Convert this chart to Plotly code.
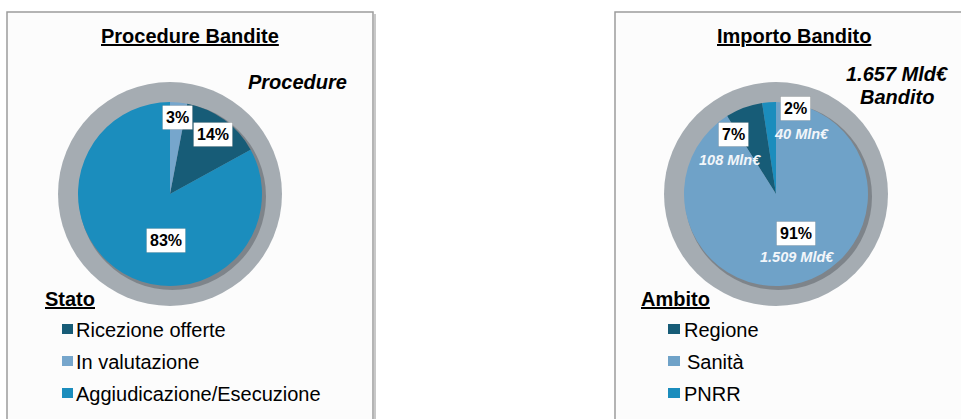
import plotly.graph_objects as go

W, H = 961, 419

# ---------------- data ----------------
stato_labels = ["Ricezione offerte", "In valutazione", "Aggiudicazione/Esecuzione"]
stato_pct = [14, 3, 83]

ambito_labels = ["Regione", "Sanità", "PNRR"]
ambito_mln = [108, 1509, 40]
ambito_amount_text = ["108 Mln€", "1.509 Mld€", "40 Mln€"]
totale_text = ["1.657 Mld€", "Bandito"]

# ---------------- styles ----------------
stato_colors = ["#175C77", "#76A6CC", "#1B8DBD"]
ambito_colors = ["#175C77", "#6FA2C8", "#1B8DBD"]
RING = "#A5ACB2"
FONT = "Liberation Sans, Arial, sans-serif"


def px(x):
    return x / W


def py(y):
    return 1 - y / H


def pie_domain(cx, cy, r):
    return dict(x=[px(cx - r), px(cx + r)], y=[py(cy + r), py(cy - r)])


L_CX, L_CY = 170, 194
R_CX, R_CY = 776, 194
PIE_R = 92
RING_R = 112

fig = go.Figure()

tot_s = sum(stato_pct)
fig.add_trace(go.Pie(
    labels=stato_labels, values=stato_pct, sort=False,
    direction="counterclockwise", rotation=360 * stato_pct[1] / tot_s,
    marker=dict(colors=stato_colors, line=dict(width=0)),
    textinfo="none", hoverinfo="label+percent", showlegend=False,
    domain=pie_domain(L_CX, L_CY, PIE_R),
))

tot_a = sum(ambito_mln)
fig.add_trace(go.Pie(
    labels=ambito_labels, values=ambito_mln, sort=False,
    direction="counterclockwise",
    rotation=-360 * (ambito_mln[0] + ambito_mln[2]) / tot_a,
    marker=dict(colors=ambito_colors, line=dict(width=0)),
    textinfo="none", hoverinfo="label+percent", showlegend=False,
    domain=pie_domain(R_CX, R_CY, PIE_R),
))

shapes = []
# panels
for x0, x1 in [(7, 373), (615, 975)]:
    shapes.append(dict(type="rect", xref="paper", yref="paper",
                       x0=px(x0), x1=px(x1), y0=py(440), y1=py(12),
                       fillcolor="#FCFCFC", line=dict(color="#9C9C9C", width=1.5),
                       layer="below"))
shapes.append(dict(type="line", xref="paper", yref="paper",
                   x0=px(375), x1=px(375), y0=py(440), y1=py(14),
                   line=dict(color="#C8C8C8", width=2), layer="below"))
# rings and shadows
for cx, cy in [(L_CX, L_CY), (R_CX, R_CY)]:
    shapes.append(dict(type="circle", xref="paper", yref="paper",
                       x0=px(cx - RING_R), x1=px(cx + RING_R),
                       y0=py(cy + RING_R), y1=py(cy - RING_R),
                       fillcolor=RING, line=dict(width=0), layer="below"))
    shapes.append(dict(type="circle", xref="paper", yref="paper",
                       x0=px(cx - PIE_R + 1), x1=px(cx + PIE_R + 4),
                       y0=py(cy + PIE_R + 4), y1=py(cy - PIE_R + 1),
                       fillcolor="rgba(95,100,105,0.55)", line=dict(width=0), layer="below"))

annotations = []


def txt(x, y, text, size, color="#000000", xanchor="center", **kw):
    annotations.append(dict(x=px(x), y=py(y), xref="paper", yref="paper",
                            text=text, showarrow=False, xanchor=xanchor,
                            yanchor="middle",
                            font=dict(family=FONT, size=size, color=color), **kw))


# titles
txt(190, 36, "<b><u>Procedure Bandite</u></b>", 20)
txt(794, 36, "<b><u>Importo Bandito</u></b>", 20)
txt(297, 82, "<b><i>Procedure</i></b>", 20)
txt(897, 74, "<b><i>%s</i></b>" % totale_text[0], 20)
txt(897, 97, "<b><i>%s</i></b>" % totale_text[1], 20)

# percentage boxes (positions relative to pie centres)
box = dict(bgcolor="#FFFFFF", bordercolor="rgba(0,0,0,0.12)", borderwidth=1, borderpad=3)
left_label_pos = [(43, -59), (7, -77), (-4, 46)]
for v, (dx, dy) in zip(stato_pct, left_label_pos):
    txt(L_CX + dx, L_CY + dy, "<b>%d%%</b>" % round(100 * v / tot_s), 16, **box)

right_pct_pos = [(-43, -59), (20, 39), (19, -85)]
right_amt_pos = [(-46, -34), (21, 63), (25, -60)]
for v, t, (dx, dy), (ax, ay) in zip(ambito_mln, ambito_amount_text, right_pct_pos, right_amt_pos):
    txt(R_CX + dx, R_CY + dy, "<b>%d%%</b>" % round(100 * v / tot_a), 16, **box)
    txt(R_CX + ax, R_CY + ay, "<b><i>%s</i></b>" % t, 14.5, color="#F2F6FA")

# legends
txt(43, 299, "<b><u>Stato</u></b>", 20, xanchor="left")
txt(639, 299, "<b><u>Ambito</u></b>", 20, xanchor="left")
rows = [329, 361, 393]
for lab, col, y in zip(stato_labels, stato_colors, rows):
    shapes.append(dict(type="rect", xref="paper", yref="paper",
                       x0=px(62), x1=px(73), y0=py(y + 5), y1=py(y - 5),
                       fillcolor=col, line=dict(width=0)))
    txt(74, y + 1, lab, 20, xanchor="left")
for lab, col, y in zip(ambito_labels, ambito_colors, rows):
    shapes.append(dict(type="rect", xref="paper", yref="paper",
                       x0=px(668), x1=px(680), y0=py(y + 5), y1=py(y - 5),
                       fillcolor=col, line=dict(width=0)))
    txt(682 if lab != "Sanità" else 685, y + 1, lab, 20, xanchor="left")

fig.update_layout(
    width=W, height=H, margin=dict(l=0, r=0, t=0, b=0),
    paper_bgcolor="#FFFFFF", plot_bgcolor="#FFFFFF",
    shapes=shapes, annotations=annotations, showlegend=False,
    font=dict(family=FONT),
)

fig.write_html("out.html", config={"displayModeBar": False},
               post_script="document.body.style.margin='0px';document.body.style.overflow='hidden';")
